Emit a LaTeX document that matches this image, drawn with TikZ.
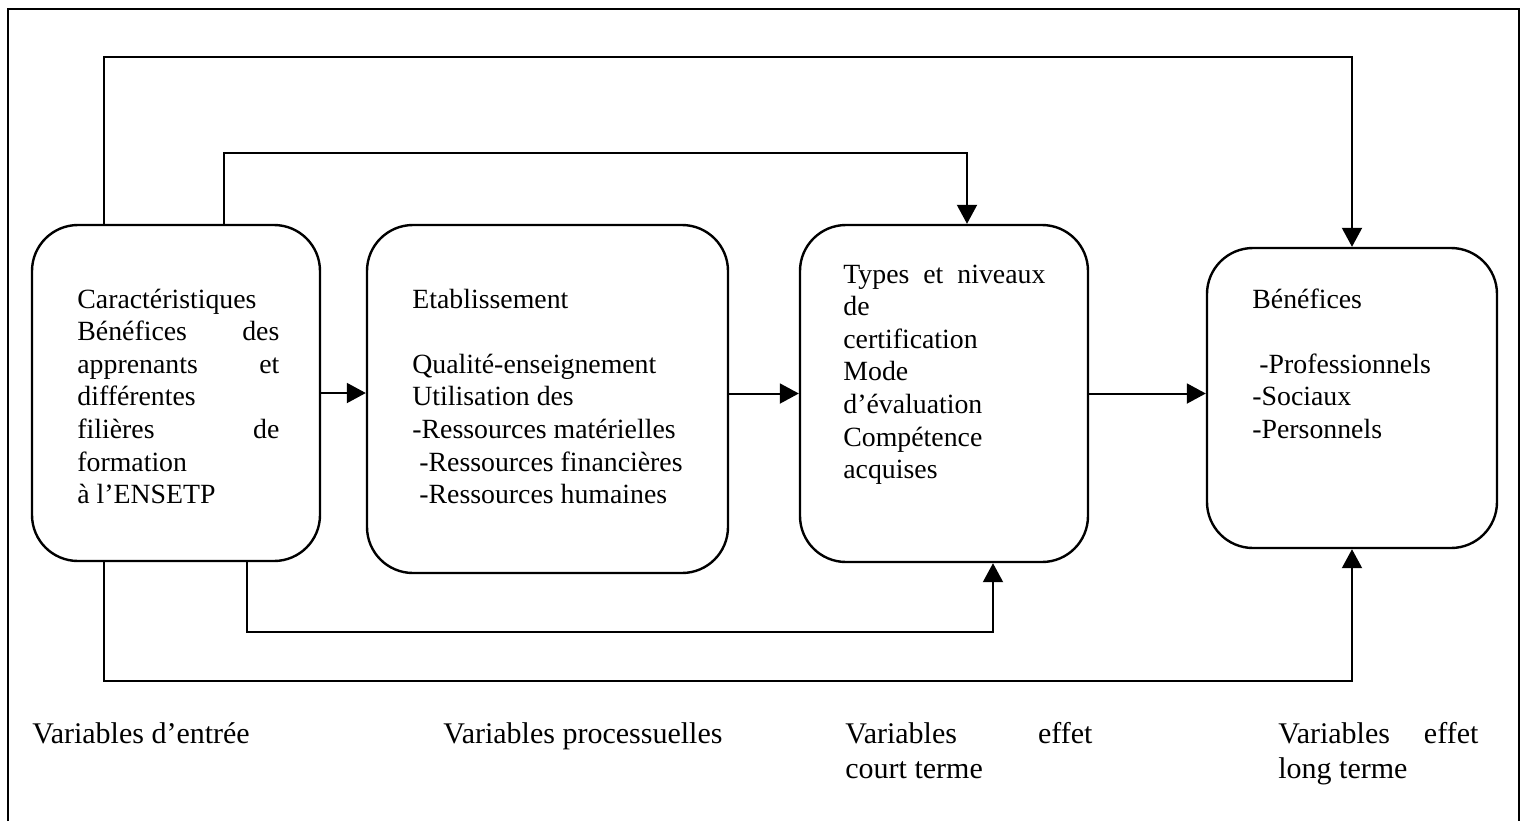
\documentclass[tikz,border=0pt]{standalone}
\usepackage{fontspec}
\setmainfont{Liberation Serif}
\usetikzlibrary{arrows.meta}
\tikzset{
  box/.style={draw, line width=1.2pt, rounded corners=23pt, inner sep=0pt},
  arr/.style={line width=1pt, -{Triangle[length=9.5pt,width=10pt]}},
  conn/.style={line width=1pt},
  txt/.style={anchor=base west, inner sep=0pt, font=\fontsize{13.9}{16.3}\selectfont},
  lbl/.style={anchor=base west, inner sep=0pt, font=\fontsize{15}{17.5}\selectfont},
}
\begin{document}
\begin{tikzpicture}[x=0.5pt, y=-0.5pt]
\useasboundingbox (0,0) rectangle (1528,821);
% outer frame
\draw[line width=1pt] (8,821) -- (8,9) -- (1519,9) -- (1519,821);
% boxes
\node[box, minimum width=144pt, minimum height=168pt] (b1) at (176,393) {};
\node[box, minimum width=180.5pt, minimum height=174pt] (b2) at (547.5,399) {};
\node[box, minimum width=144pt, minimum height=168.5pt] (b3) at (944,393.5) {};
\node[box, minimum width=145pt, minimum height=150pt] (b4) at (1352,398) {};
% box texts
\node[txt] (t1) at (77,308) {\parbox[t]{101pt}{Caractéristiques\\Bénéfices\hfill des\\apprenants\hfill et\\différentes\\filières\hfill de\\formation\\à\ l’ENSETP}};
\node[txt] (t2) at (412,308) {\parbox[t]{160pt}{Etablissement\\\mbox{}\\Qualité-enseignement\\Utilisation des\\-Ressources matérielles\\\hspace*{3.5pt}-Ressources financières\\\hspace*{3.5pt}-Ressources humaines}};
\node[txt] (t3) at (843,283) {\parbox[t]{101pt}{Types\hfill et\hfill niveaux\\de\\certification\\Mode\\d’évaluation\\Compétence\\acquises}};
\node[txt] (t4) at (1252,308) {\parbox[t]{120pt}{Bénéfices\\\mbox{}\\\hspace*{3.5pt}-Professionnels\\-Sociaux\\-Personnels}};
% bottom labels
\node[lbl] (l1) at (32,743) {Variables d’entrée};
\node[lbl] (l2) at (443,743) {Variables processuelles};
\node[lbl] (l3) at (845,743) {\parbox[t]{123.5pt}{Variables\hfill effet\\court terme}};
\node[lbl] (l4) at (1278,743) {\parbox[t]{100pt}{Variables\hfill effet\\long terme}};
% waypoints
\coordinate (p1) at (104,57);
\coordinate (p2) at (224,153);
\coordinate (p2e) at (967,153);
\coordinate (q1) at (247,632);
\coordinate (q1e) at (993,632);
\coordinate (q2) at (104,681);
% horizontal arrows
\draw[arr] (b1.east) -- (b2.west |- b1.east);
\draw[arr] (b3.west -| b2.east) -- (b3.west);
\draw[arr] (b3.east) -- (b4.west |- b3.east);
% loops
\draw[arr] (b1.north -| p1) -- (p1) -| (b4.north);
\draw[arr] (b1.north -| p2) -- (p2) -- (p2e) -- (b3.north -| p2e);
\draw[arr] (b1.south -| q1) -- (q1) -- (q1e) -- (b3.south -| q1e);
\draw[arr] (b1.south -| q2) -- (q2) -| (b4.south);
\end{tikzpicture}
\end{document}
